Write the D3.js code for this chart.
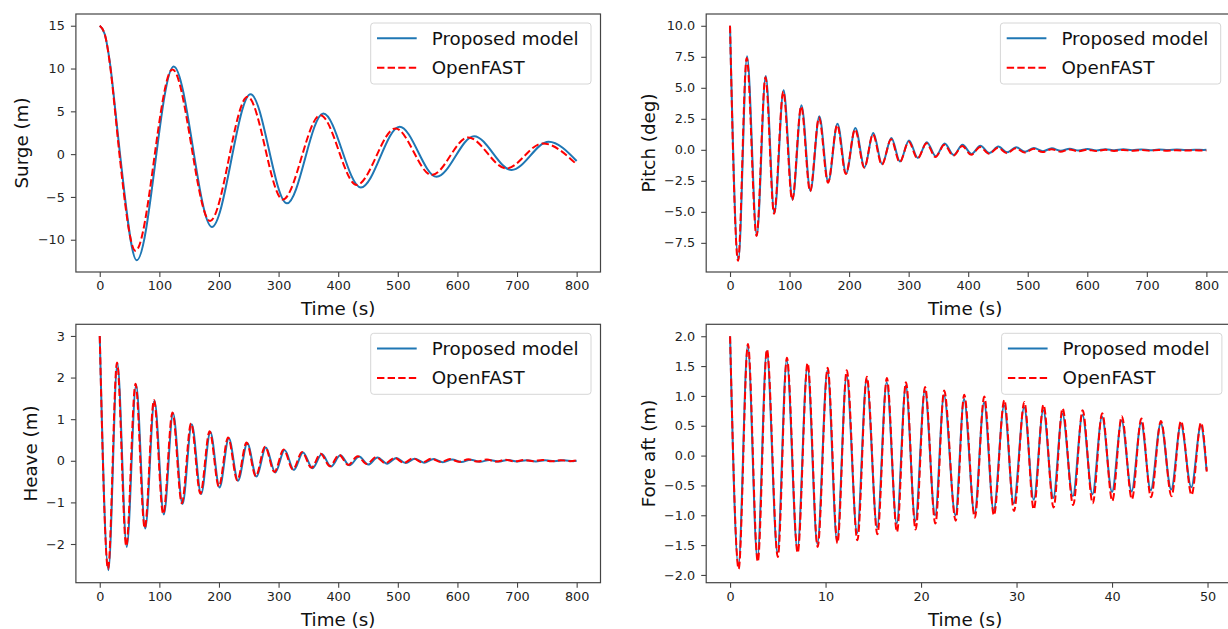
<!DOCTYPE html>
<html>
<head>
<meta charset="utf-8">
<script src="https://cdn.jsdelivr.net/npm/d3@7"></script>
<style>
  html, body { margin: 0; padding: 0; background: #fff; }
  svg { display: block; font-family: "DejaVu Sans", sans-serif; }
</style>
</head>
<body>
<div id="chart"></div>
<script>
// extremes (time, value), joined by a monotone curve
const surgeModel = [[0,15],[8,14.1],[18,10.2],[26,5.2],[34,0],[62,-12.4],[124,10.25],[188,-8.5],[253,7.0],[314,-5.75],[375,4.75],[438,-3.9],[503,3.2],[565,-2.65],[628,2.1],[691,-1.85],[753,1.45],[800,-0.8]];
const surgeFast = [[0,15],[8,14.1],[18,10],[26,4.8],[33,0],[60,-11.3],[122,9.9],[185,-7.8],[248,6.7],[307,-5.3],[370,4.55],[431,-3.6],[496,3.0],[557,-2.45],[618,1.95],[682,-1.67],[743,1.25],[800,-1.2]];

const pitchModel = [[0,10],[14,-8.9],[28.6,7.55],[45,-6.9],[60,5.95],[74.5,-5.1],[90,4.8],[105,-4.0],[120,3.6],[135,-3.3],[150,2.7],[165,-2.6],[180.5,2.1],[195,-1.9],[210.5,1.75],[226,-1.4],[240.5,1.35],[255.5,-1.15],[271,0.95],[285.5,-0.95],[300.5,0.75],[315.5,-0.65],[330.5,0.62],[345.5,-0.52],[360.5,0.5],[375.5,-0.42],[390.5,0.4],[405.5,-0.33],[420.5,0.32],[435.5,-0.26],[450.5,0.26],[465.5,-0.2],[480.5,0.2],[495.5,-0.15],[510.5,0.15],[525.5,-0.11],[540.5,0.12],[555.5,-0.08],[570.5,0.09],[585.5,-0.06],[600.5,0.07],[615.5,-0.05],[630.5,0.05],[645.5,-0.04],[660.5,0.04],[675.5,-0.03],[690.5,0.03],[705.5,-0.03],[720.5,0.02],[735.5,-0.02],[750.5,0.02],[765.5,-0.02],[780.5,0.01],[795.5,-0.01],[800,0]];
const pitchFast = [[0,10],[13.5,-8.95],[28,7.4],[44.5,-6.95],[59.5,5.85],[74,-5.15],[89.5,4.7],[104.5,-4.05],[119.5,3.5],[134.5,-3.35],[149.5,2.6],[164.5,-2.65],[180,2.0],[194.5,-1.95],[210,1.65],[225.5,-1.45],[240,1.25],[255,-1.2],[270.5,0.85],[285,-1.0],[300,0.65],[315,-0.7],[330,0.52],[345,-0.58],[360,0.4],[375,-0.48],[390,0.3],[405,-0.4],[420,0.23],[435,-0.32],[450,0.17],[465,-0.27],[480,0.12],[495,-0.22],[510,0.08],[525,-0.18],[540,0.05],[555,-0.15],[570,0.03],[585,-0.12],[600,0.01],[615,-0.1],[630,0],[645,-0.09],[660,-0.01],[675,-0.08],[690,-0.02],[705,-0.07],[720,-0.02],[735,-0.07],[750,-0.03],[765,-0.06],[780,-0.03],[795,-0.06],[800,-0.05]];

const heaveModel = [[0,3],[14.5,-2.63],[29.6,2.34],[45.3,-2.07],[61,1.83],[76.3,-1.63],[91.8,1.44],[107.5,-1.29],[123,1.14],[138.8,-1.04],[154.3,0.88],[170,-0.8],[185.5,0.69],[201,-0.64],[216.5,0.54],[232,-0.48],[247.5,0.42],[263,-0.38],[278.6,0.32],[294.5,-0.28],[310,0.26],[325.7,-0.22],[341,0.2],[357,-0.18],[372.5,0.16],[388,-0.14],[403.5,0.13],[419,-0.11],[435,0.1],[450.5,-0.09],[466,0.08],[482,-0.07],[497.5,0.065],[513,-0.055],[528.5,0.05],[544,-0.045],[560,0.04],[575.5,-0.035],[591,0.03],[606.5,-0.03],[622,0.025],[638,-0.025],[653.5,0.02],[669,-0.02],[684.5,0.02],[700,-0.015],[716,0.015],[731.5,-0.015],[747,0.01],[762.5,-0.01],[778,0.01],[794,-0.01],[800,0]];
const heaveFast = [[0,3],[14,-2.6],[29,2.36],[44.5,-2.05],[60,1.85],[75.5,-1.62],[91,1.46],[106.5,-1.28],[122,1.16],[137.7,-1.02],[153.2,0.9],[168.8,-0.79],[184.3,0.71],[199.8,-0.62],[215.3,0.56],[230.8,-0.47],[246.3,0.44],[261.8,-0.37],[277.3,0.34],[293,-0.27],[308.5,0.27],[324,-0.21],[339.5,0.21],[355,-0.17],[370.5,0.17],[386,-0.13],[401.5,0.14],[417,-0.1],[432.5,0.11],[448,-0.08],[463.5,0.09],[479,-0.06],[494.5,0.07],[510,-0.05],[525.5,0.06],[541,-0.04],[556.5,0.05],[572,-0.03],[587.5,0.04],[603,-0.025],[618.5,0.035],[634,-0.02],[649.5,0.03],[665,-0.02],[680.5,0.025],[696,-0.015],[711.5,0.02],[727,-0.01],[742.5,0.02],[758,-0.01],[773.5,0.015],[789,-0.01],[800,0.01]];

const foreModel = [[0,2.0],[0.87,-1.85],[1.85,1.84],[2.86,-1.72],[3.84,1.75],[4.96,-1.63],[5.93,1.6],[7.05,-1.57],[8.1,1.5],[9.14,-1.48],[10.2,1.43],[11.2,-1.43],[12.2,1.34],[13.3,-1.3],[14.3,1.28],[15.4,-1.2],[16.4,1.23],[17.45,-1.14],[18.4,1.17],[19.4,-1.1],[20.4,1.09],[21.47,-1.0],[22.4,1.01],[23.6,-1.0],[24.5,0.95],[25.6,-0.97],[26.6,0.89],[27.6,-0.92],[28.7,0.84],[29.7,-0.8],[30.8,0.81],[31.8,-0.74],[32.8,0.76],[33.85,-0.71],[34.8,0.7],[35.9,-0.68],[36.9,0.68],[37.95,-0.65],[38.95,0.65],[40.0,-0.61],[41.0,0.59],[42.05,-0.6],[43.05,0.55],[44.05,-0.58],[45.1,0.54],[46.2,-0.57],[47.2,0.52],[48.3,-0.53],[49.3,0.5],[49.9,-0.25]];
const foreFast = [[0,2.0],[0.9,-1.9],[1.87,1.87],[2.9,-1.78],[3.86,1.78],[5.0,-1.7],[5.95,1.64],[7.08,-1.63],[8.12,1.55],[9.17,-1.53],[10.22,1.47],[11.24,-1.47],[12.22,1.43],[13.33,-1.42],[14.32,1.32],[15.43,-1.32],[16.42,1.3],[17.48,-1.28],[18.42,1.23],[19.43,-1.24],[20.42,1.15],[21.5,-1.14],[22.42,1.09],[23.63,-1.09],[24.52,1.02],[25.63,-1.04],[26.62,0.99],[27.63,-1.0],[28.72,0.93],[29.73,-0.93],[30.82,0.9],[31.8,-0.9],[32.82,0.85],[33.88,-0.87],[34.82,0.79],[35.93,-0.83],[36.92,0.76],[37.98,-0.8],[38.97,0.71],[40.03,-0.76],[41.02,0.66],[42.08,-0.73],[43.07,0.62],[44.08,-0.7],[45.12,0.58],[46.23,-0.68],[47.22,0.58],[48.33,-0.66],[49.32,0.55],[49.92,-0.27]];

const timeTicks800 = [0, 100, 200, 300, 400, 500, 600, 700, 800];
const timeTicks50 = [0, 10, 20, 30, 40, 50];
const surgeTicks = [-10, -5, 0, 5, 10, 15];
const pitchTicks = [-7.5, -5, -2.5, 0, 2.5, 5, 7.5, 10];
const heaveTicks = [-2, -1, 0, 1, 2, 3];
const foreTicks = [-2, -1.5, -1, -0.5, 0, 0.5, 1, 1.5, 2];
const seriesNames = ["Proposed model", "OpenFAST"];

const W = 1228, H = 629;
const BLUE = "#1f77b4", RED = "#ff0000", FRAME = "#444";

const svg = d3.select("#chart").append("svg").attr("width", W).attr("height", H);

const panels = [
  { model: surgeModel, fast: surgeFast, xDom: [-40, 840], yDom: [-13.77, 16.37], xTicks: timeTicks800, yTicks: surgeTicks, fmt: d3.format("d"), label: "Surge (m)", box: [75.9, 14, 600.5, 272], labelX: 21.5 },
  { model: pitchModel, fast: pitchFast, xDom: [-40, 840], yDom: [-9.85, 10.95], xTicks: timeTicks800, yTicks: pitchTicks, fmt: d3.format(".1f"), label: "Pitch (deg)", box: [706.2, 14, 1230.2, 272], labelX: 648.3 },
  { model: heaveModel, fast: heaveFast, xDom: [-40, 840], yDom: [-2.93, 3.28], xTicks: timeTicks800, yTicks: heaveTicks, fmt: d3.format("d"), label: "Heave (m)", box: [75.9, 324.3, 600.5, 582.7], labelX: 30.8 },
  { model: foreModel, fast: foreFast, xDom: [-2.5, 52.5], yDom: [-2.13, 2.2], xTicks: timeTicks50, yTicks: foreTicks, fmt: d3.format(".1f"), label: "Fore aft (m)", box: [706.2, 324.3, 1231.4, 582.7], labelX: 648.3 },
];

const drawPanel = (p, i) => {
  const [x0, y0, x1, y1] = p.box;
  const x = d3.scaleLinear().domain(p.xDom).range([x0, x1]);
  const y = d3.scaleLinear().domain(p.yDom).range([y1, y0]);
  const g = svg.append("g");

  g.append("clipPath").attr("id", "clip" + i)
    .append("rect").attr("x", x0).attr("y", y0).attr("width", x1 - x0).attr("height", y1 - y0);

  const line = d3.line().x((d) => x(d[0])).y((d) => y(d[1])).curve(d3.curveMonotoneX);
  const plot = g.append("g").attr("clip-path", `url(#clip${i})`);
  plot.append("path").datum(p.model).attr("d", line)
    .attr("fill", "none").attr("stroke", BLUE).attr("stroke-width", 2);
  plot.append("path").datum(p.fast).attr("d", line)
    .attr("fill", "none").attr("stroke", RED).attr("stroke-width", 2)
    .attr("stroke-dasharray", "7.4,3.2");

  // axes
  const xAxis = g.append("g").attr("transform", `translate(0,${y1})`)
    .call(d3.axisBottom(x).tickValues(p.xTicks).tickSize(5).tickPadding(4).tickFormat(d3.format("d")));
  const yAxis = g.append("g").attr("transform", `translate(${x0},0)`)
    .call(d3.axisLeft(y).tickValues(p.yTicks).tickSize(5).tickPadding(6).tickFormat(p.fmt));
  [xAxis, yAxis].forEach((a) => {
    a.select(".domain").remove();
    a.selectAll("line").attr("stroke", FRAME).attr("stroke-width", 1.1);
    a.selectAll("text").attr("fill", "#222").style("font-size", "12.8px").style("font-family", "DejaVu Sans");
  });

  g.append("rect").attr("x", x0).attr("y", y0).attr("width", x1 - x0).attr("height", y1 - y0)
    .attr("fill", "none").attr("stroke", FRAME).attr("stroke-width", 1.2);

  g.append("text").attr("x", (x0 + Math.min(x1, W)) / 2 + (i % 2 ? -2 : 0)).attr("y", y1 + 43)
    .attr("text-anchor", "middle").attr("fill", "#111").style("font-size", "18.3px")
    .text("Time (s)");
  g.append("text")
    .attr("transform", `translate(${p.labelX},${(y0 + y1) / 2}) rotate(-90)`)
    .attr("text-anchor", "middle").attr("dominant-baseline", "central")
    .attr("fill", "#111").style("font-size", "18.3px").text(p.label);

  // legend
  const lx = x1 - 229.8, ly = y0 + 9;
  const leg = g.append("g").attr("transform", `translate(${lx},${ly})`);
  leg.append("rect").attr("width", 220.3).attr("height", 61).attr("rx", 3)
    .attr("fill", "#fff").attr("fill-opacity", 0.8).attr("stroke", "#d6d6d6").attr("stroke-width", 1);
  seriesNames.forEach((name, k) => {
    const ry = 15.3 + k * 29.4;
    leg.append("line").attr("x1", 6.3).attr("x2", 46).attr("y1", ry).attr("y2", ry)
      .attr("stroke", k ? RED : BLUE).attr("stroke-width", 2)
      .attr("stroke-dasharray", k ? "7.4,3.2" : null);
    leg.append("text").attr("x", 61).attr("y", ry + 6.3).attr("fill", "#111")
      .style("font-size", "18.3px").text(name);
  });
};

panels.forEach(drawPanel);
</script>
</body>
</html>
